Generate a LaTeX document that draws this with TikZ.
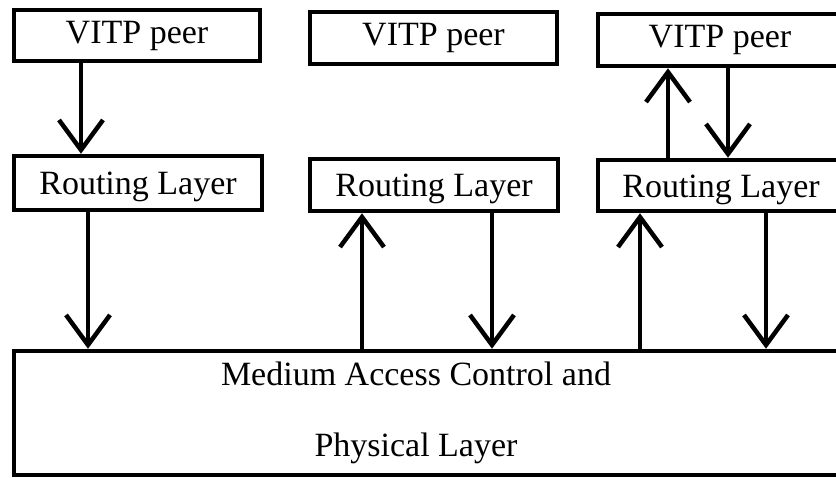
\documentclass[tikz,border=0pt]{standalone}
\usepackage{fontspec}
\setmainfont{Liberation Serif}
\usetikzlibrary{arrows.meta}

\begin{document}
\begin{tikzpicture}[x=1pt, y=-1pt, line width=4.5pt,
    >={Straight Barb[length=30pt,width=44pt]},
    layer/.style={draw, rectangle, inner sep=0pt, font=\fontsize{34}{40}\selectfont},
    routing/.style={layer, text height=23pt, text depth=0pt}]
    \clip (0,0) rectangle (836,477);
        \node[layer, minimum width=246pt, minimum height=51pt] (peerA) at (137,35.5) {VITP peer};
        \node[routing, minimum width=248pt, minimum height=54pt] (routeA) at (138,183) {Routing Layer};
        \node[layer, minimum width=247pt, minimum height=52pt] (peerB) at (433.5,38) {VITP peer};
        \node[routing, minimum width=248pt, minimum height=52pt] (routeB) at (434,185) {Routing Layer};
        \node[layer, minimum width=244pt, minimum height=52pt] (peerC) at (720,40) {VITP peer};
        \node[routing, minimum width=246pt, minimum height=51pt] (routeC) at (721,185.5) {Routing Layer};
        \node[layer, minimum width=886pt, minimum height=124pt] (mac) at (457,413) {};
        \node[align=center, font=\fontsize{34}{40}\selectfont] (macText) at (416,413)
            {Medium Access Control and\\[31pt]Physical Layer};
        \draw[->] ([xshift=-56pt]peerA.south) -- ([xshift=-56pt]peerA.south |- routeA.north);
        \draw[->] ([xshift=-50pt]routeA.south) -- ([xshift=-50pt]routeA.south |- mac.north);
        \draw[->] ([xshift=-72pt]routeB.south |- mac.north) -- ([xshift=-72pt]routeB.south);
        \draw[->] ([xshift=58pt]routeB.south) -- ([xshift=58pt]routeB.south |- mac.north);
        \draw[->] ([xshift=-53pt]routeC.north) -- ([xshift=-53pt]routeC.north |- peerC.south);
        \draw[->] ([xshift=8pt]peerC.south) -- ([xshift=8pt]peerC.south |- routeC.north);
        \draw[->] ([xshift=-81pt]routeC.south |- mac.north) -- ([xshift=-81pt]routeC.south);
        \draw[->] ([xshift=45pt]routeC.south) -- ([xshift=45pt]routeC.south |- mac.north);
    \end{tikzpicture}
\end{document}
